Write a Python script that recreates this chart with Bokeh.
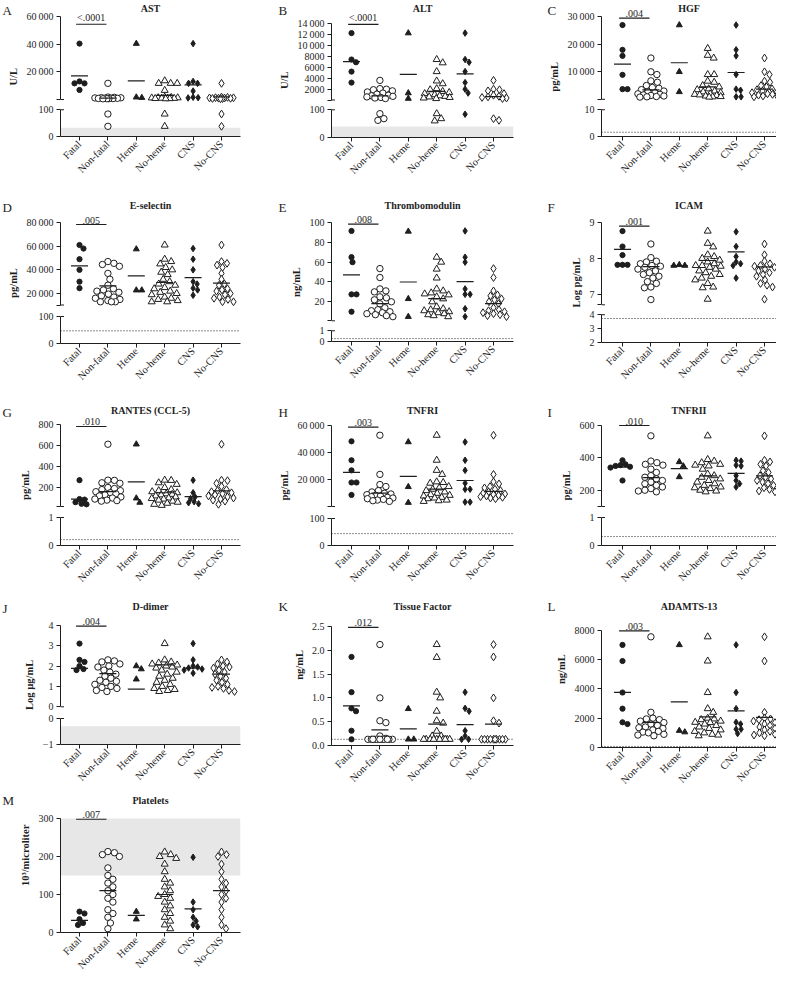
import math
from bokeh.plotting import figure
from bokeh.layouts import row, column
from bokeh.models import Range1d, FixedTicker, Label, Span, BoxAnnotation
from bokeh.embed import file_html
from bokeh.resources import INLINE
from bokeh.core.properties import value

GROUPS = ["Fatal", "Non-fatal", "Heme", "No-heme", "CNS", "No-CNS"]
TS = "\u2009"

# ---------------- data ----------------
AST = [
    [40500, 13000, 11600, 11600, 6800],
    [11600, 1600, 1400, 1200, 1100, 1000, 900, 800, 700, 600, 500, 450, 400, 350, 84, 38],
    [40500, 1500, 1200],
    [13500, 11600, 11600, 11600, 6500, 1600, 1400, 1200, 1100, 1000, 900, 800, 700, 600, 500, 400, 84, 38],
    [40500, 13000, 11600, 11600, 6000, 1500, 1200, 1000],
    [11600, 1600, 1400, 1200, 1100, 1000, 900, 800, 700, 600, 500, 400, 84, 38],
]
AST_MEAN = [17000, 800, 13400, 2900, 10500, 1700]

ALT = [
    [12200, 7400, 6900, 5200, 3200],
    [3600, 2100, 2000, 1900, 1700, 1500, 1300, 1100, 900, 800, 700, 600, 500, 400, 300, 86, 62, 68],
    [12200, 1300, 300],
    [7400, 6800, 5200, 3500, 3000, 2100, 1900, 1600, 1400, 1200, 1000, 800, 700, 600, 500, 400, 300, 86, 60, 68],
    [12200, 7400, 6900, 5200, 3200, 2000, 1300, 84],
    [3600, 2000, 1900, 1700, 1200, 900, 700, 600, 500, 400, 300, 62, 68],
]
ALT_MEAN = [7000, 800, 4700, 1600, 4800, 650]

HGF = [
    [27000, 18000, 15800, 8900, 3700, 3700],
    [15000, 10000, 9000, 6700, 6200, 5000, 4300, 4000, 3500, 3000, 2700, 2400, 2000, 1800, 1600, 1400, 1200, 1000, 900, 800],
    [27000, 10000, 2700],
    [18500, 16000, 15000, 9000, 9000, 6600, 6200, 5000, 4500, 3800, 3500, 3000, 2700, 2400, 2000, 1800, 1600, 1400, 1200, 1000, 900, 800],
    [27000, 18000, 15800, 9000, 3700, 3300, 900, 900],
    [15000, 10000, 9000, 6600, 6200, 5000, 4500, 3800, 3500, 3000, 2700, 2400, 2000, 1800, 1500, 1200, 1000, 900],
]
HGF_MEAN = [12800, 3450, 13300, 4550, 9750, 3700]

ESEL = [
    [61000, 58000, 49000, 40000, 30000, 24500],
    [47000, 45500, 44500, 43000, 37000, 32000, 27000, 24000, 23000, 22000, 21000, 19500, 18000, 17000, 16000, 15000, 14000, 13000, 13000, 13000],
    [57500, 22800, 22800],
    [61000, 49000, 47000, 45000, 42000, 40000, 38000, 36000, 32000, 30000, 28000, 27000, 25000, 24000, 22000, 21000, 20000, 19000, 17000, 16000, 15000, 14000, 13000, 13000],
    [58000, 49000, 40000, 30000, 28000, 24500, 23000, 18500],
    [61000, 47000, 45500, 44000, 42000, 37000, 32000, 28000, 27000, 24000, 23000, 22000, 20000, 19000, 17000, 16000, 15000, 13000, 13000],
]
ESEL_MEAN = [43400, 26500, 34900, 29300, 33500, 28700]

TM = [
    [91.5, 65, 60, 27.5, 27.5, 10],
    [53.5, 44.5, 33, 31, 30, 25, 24, 22, 20, 18, 14, 12, 11, 10, 9, 8, 7, 6, 5],
    [91, 23, 5],
    [65, 60, 53, 44, 33, 31, 29, 28, 27, 25, 23, 20, 15, 13, 12, 11, 10, 9, 8, 7, 6, 5],
    [91.5, 65, 60, 33, 27.5, 27.5, 13, 5],
    [53.5, 44.5, 31, 27, 26, 23, 22, 20, 18, 14, 12, 11, 10, 9, 8, 7, 6, 5],
]
TM_MEAN = [47.2, 18.2, 40, 23.2, 40.4, 18.2]

ICAM = [
    [8.76, 8.33, 8.09, 7.82, 7.82, 7.82],
    [8.4, 8.02, 7.92, 7.9, 7.85, 7.8, 7.78, 7.75, 7.7, 7.65, 7.6, 7.55, 7.5, 7.45, 7.35, 7.3, 7.2, 7.18, 6.85],
    [7.82, 7.8, 7.8],
    [8.76, 8.42, 8.32, 8.1, 8.05, 8.0, 7.95, 7.9, 7.85, 7.8, 7.8, 7.78, 7.75, 7.7, 7.65, 7.6, 7.55, 7.5, 7.45, 7.4, 7.3, 7.2, 7.18, 6.86],
    [8.74, 8.33, 8.05, 7.9, 7.85, 7.8, 7.45],
    [8.4, 8.1, 7.92, 7.85, 7.8, 7.78, 7.75, 7.7, 7.65, 7.6, 7.55, 7.5, 7.4, 7.3, 7.25, 7.2, 6.86],
]
ICAM_MEAN = [8.25, 7.77, 7.8, 7.94, 8.18, 7.76]

RANTES = [
    [270, 90, 85, 60, 45, 40],
    [612, 270, 268, 245, 240, 200, 190, 180, 170, 160, 150, 140, 130, 120, 110, 100, 90, 80, 75, 70],
    [612, 98, 57],
    [270, 268, 245, 230, 200, 180, 170, 160, 150, 140, 135, 130, 120, 110, 100, 95, 90, 80, 70, 60, 50, 40, 30],
    [270, 150, 110, 95, 65, 55, 45],
    [612, 270, 265, 240, 210, 180, 170, 160, 150, 140, 130, 120, 110, 100, 90, 80, 70, 40],
]
RANTES_MEAN = [89, 160, 254, 150, 114, 168]

TNFRI = [
    [48500, 34500, 27000, 18000, 18000, 8800],
    [53000, 24000, 16500, 15000, 12000, 11000, 10000, 9500, 9000, 8500, 8000, 7500, 7000, 6500, 6000, 5500, 5000, 4500, 4000],
    [48000, 14800, 3100],
    [53000, 34500, 27000, 24000, 18500, 18000, 17500, 15000, 14000, 13000, 12000, 11000, 10000, 9000, 8500, 8000, 7000, 6500, 6000, 5000, 4500, 4000],
    [48000, 34500, 27000, 17500, 13000, 13000, 3500, 3500],
    [53000, 24000, 18500, 17000, 15000, 14000, 13000, 12000, 11000, 10000, 9500, 9000, 8500, 8000, 7500, 7000, 6500, 6000],
]
TNFRI_MEAN = [25500, 10200, 22600, 13100, 19500, 11400]

TNFRII = [
    [385, 360, 355, 350, 345, 340, 260],
    [536, 380, 370, 360, 355, 330, 310, 290, 280, 270, 260, 250, 240, 230, 220, 210, 200, 195, 190],
    [375, 349, 282],
    [536, 390, 380, 370, 360, 355, 350, 330, 300, 290, 280, 270, 260, 250, 240, 230, 220, 215, 210, 200, 195, 190],
    [385, 380, 355, 350, 290, 260, 240, 220],
    [536, 385, 375, 360, 350, 320, 310, 290, 280, 270, 260, 250, 240, 230, 215, 205, 195, 190],
]
TNFRII_MEAN = [342, 278, 333, 288, 304, 288]

DDIMER = [
    [3.1, 2.3, 2.2, 2.0, 1.85, 1.8],
    [2.3, 2.25, 2.2, 2.1, 2.0, 1.95, 1.8, 1.7, 1.6, 1.5, 1.4, 1.3, 1.25, 1.2, 1.1, 1.0, 0.95, 0.9, 0.8, 0.75],
    [2.0, 1.85, 1.35],
    [3.1, 2.3, 2.2, 2.15, 2.1, 2.05, 2.0, 1.95, 1.9, 1.8, 1.7, 1.6, 1.5, 1.4, 1.3, 1.2, 1.1, 1.0, 0.9, 0.85, 0.8, 0.75],
    [3.1, 2.3, 2.0, 1.95, 1.9, 1.85, 1.8, 1.65],
    [2.3, 2.2, 2.1, 2.0, 1.95, 1.9, 1.8, 1.7, 1.6, 1.5, 1.4, 1.3, 1.2, 1.1, 1.0, 0.95, 0.9, 0.8, 0.75],
]
DDIMER_MEAN = [1.88, 1.63, 0.87, 2.06, 1.9, 1.6]

TF = [
    [1.86, 1.12, 0.78, 0.72, 0.31, 0.13],
    [2.12, 1.0, 0.52, 0.48, 0.2, 0.15, 0.13, 0.13, 0.13, 0.13, 0.13, 0.13, 0.13, 0.13, 0.13, 0.13, 0.13, 0.13],
    [0.77, 0.13, 0.13],
    [2.12, 1.85, 1.12, 1.0, 0.72, 0.52, 0.47, 0.3, 0.2, 0.2, 0.13, 0.13, 0.13, 0.13, 0.13, 0.13, 0.13, 0.13, 0.13, 0.13],
    [1.12, 0.78, 0.72, 0.31, 0.2, 0.13, 0.13],
    [2.12, 1.86, 1.0, 0.52, 0.47, 0.13, 0.13, 0.13, 0.13, 0.13, 0.13, 0.13, 0.13, 0.13, 0.13],
]
TF_MEAN = [0.83, 0.33, 0.35, 0.45, 0.44, 0.45]

ADAMTS = [
    [7000, 5900, 3750, 2650, 1720, 1600],
    [7550, 2400, 2000, 1950, 1900, 1800, 1700, 1600, 1500, 1400, 1350, 1300, 1200, 1100, 1050, 1000, 900, 850, 800],
    [7000, 1150, 1050],
    [7550, 5900, 3750, 2650, 2400, 2000, 1950, 1900, 1800, 1720, 1700, 1600, 1500, 1400, 1300, 1200, 1100, 1000, 900, 850, 800],
    [7000, 3750, 2650, 1720, 1600, 1250, 1250, 950],
    [7550, 5900, 2400, 2000, 1950, 1900, 1800, 1700, 1600, 1500, 1400, 1300, 1200, 1100, 1000, 900, 850, 800],
]
ADAMTS_MEAN = [3760, 1720, 3110, 2090, 2500, 2050]

PLT = [
    [55, 50, 35, 25, 20],
    [213, 210, 205, 200, 170, 150, 140, 130, 120, 110, 100, 90, 80, 60, 50, 40, 25, 10],
    [55, 35],
    [212, 205, 200, 195, 180, 160, 140, 130, 120, 110, 100, 95, 90, 80, 70, 60, 50, 40, 30, 20, 10],
    [198, 80, 60, 40, 30, 20, 15],
    [212, 205, 200, 180, 160, 140, 130, 120, 110, 100, 90, 80, 60, 40, 20, 10],
]
PLT_MEAN = [32, 110, 45, 100, 62, 110]

# tick values / labels
AST_UP_T, AST_UP_L = [20000, 40000, 60000], ["20" + TS + "000", "40" + TS + "000", "60" + TS + "000"]
ALT_UP_T = [2000, 4000, 6000, 8000, 10000, 12000, 14000]
ALT_UP_L = ["2000", "4000", "6000", "8000", "10" + TS + "000", "12" + TS + "000", "14" + TS + "000"]
HGF_UP_T, HGF_UP_L = [10000, 20000, 30000], ["10" + TS + "000", "20" + TS + "000", "30" + TS + "000"]
ESEL_UP_T = [20000, 40000, 60000, 80000]
ESEL_UP_L = ["20" + TS + "000", "40" + TS + "000", "60" + TS + "000", "80" + TS + "000"]
TM_UP_T, TM_UP_L = [20, 40, 60, 80, 100], ["20", "40", "60", "80", "100"]
ICAM_UP_T, ICAM_UP_L = [7, 8, 9], ["7", "8", "9"]
RANTES_UP_T, RANTES_UP_L = [200, 400, 600, 800], ["200", "400", "600", "800"]
TNFRI_UP_T, TNFRI_UP_L = [20000, 40000, 60000], ["20" + TS + "000", "40" + TS + "000", "60" + TS + "000"]
TNFRII_UP_T, TNFRII_UP_L = [200, 400, 600], ["200", "400", "600"]
DD_UP_T, DD_UP_L = [0, 1, 2, 3, 4], ["0", "1", "2", "3", "4"]
TF_T, TF_L = [0, 0.5, 1.0, 1.5, 2.0, 2.5], ["0.0", "0.5", "1.0", "1.5", "2.0", "2.5"]
ADAM_T, ADAM_L = [0, 2000, 4000, 6000, 8000], ["0", "2000", "4000", "6000", "8000"]
PLT_T, PLT_L = [0, 100, 200, 300], ["0", "100", "200", "300"]
LO_100_T, LO_100_L = [0, 100], ["0", "100"]
LO_10_T, LO_10_L = [0, 10], ["0", "10"]
LO_1_T, LO_1_L = [0, 1], ["0", "1"]
ICAM_LO_T, ICAM_LO_L = [2, 3, 4], ["2", "3", "4"]
DD_LO_T, DD_LO_L = [-1, 0], ["\u22121", "0"]

P_TEXT = ["<.0001", "<.0001", ".004", ".005", ".008", ".001", ".010", ".003", ".010", ".004", ".012", ".003", ".007"]
SIG_Y = [54600, 13800, 29500, 78300, 98.3, 8.9, 781, 59000, 600, 3.95, 2.48, 7950, 298]

# ---------------- styling / layout ----------------
FONT = "Liberation Serif"
INK = "#1e1e1e"
MARKERS = [("circle", True, 5.2), ("circle", False, 6.4), ("triangle", True, 6.0),
           ("triangle", False, 7.0), ("diamond", True, 6.5), ("diamond", False, 7.8)]
DIAM = [5.0, 6.2, 5.5, 6.5, 4.6, 5.6]

COL_X0 = [8, 266, 530]
COL_W = [258, 264, 254]
FRAME_L = [68, 339, 609]
FRAME_R = [248, 521, 784]
FATAL_PX = [87, 359, 630]
LETTER_PX = [10, 286, 555]
CAT_STEP = 28.4
ROW_TOP = [8, 205, 410, 606, 800]
ROW_BOT = [205, 410, 606, 800, 985]


def lin(v1, p1, v2, p2):
    k = (p2 - p1) / (v2 - v1)
    return (lambda v: p1 + (v - v1) * k), (lambda p: v1 + (p - p1) / k)


def text_w(s, fs=10.0):
    w = 0.0
    for ch in s:
        if ch.isdigit():
            w += 0.5
        elif ch in " \u2009":
            w += 0.2
        elif ch == ".":
            w += 0.25
        else:
            w += 0.56
    return w * fs


def swarm(ypx, d, limit=13.0):
    n = len(ypx)
    offs = [0.0] * n
    order = sorted(range(n), key=lambda i: ypx[i])
    cands = [0.0]
    k = 0.5
    while k <= limit:
        cands += [k, -k]
        k += 0.5
    placed = []
    for i in order:
        y = ypx[i]
        chosen, best_c, best_d = None, 0.0, -1.0
        for c in cands:
            md = min([math.hypot(c - px, y - py) for px, py in placed], default=1e9)
            if md >= d:
                chosen = c
                break
            if md > best_d:
                best_d, best_c = md, c
        if chosen is None:
            chosen = best_c
        offs[i] = chosen
        placed.append((chosen, y))
    return offs


def make_fig(w, h, xr, yr, bl, br, bb, with_x):
    p = figure(width=int(w), height=int(h), x_range=xr, y_range=yr, output_backend="svg",
               toolbar_location=None, x_axis_location="below" if with_x else None, title=None,
               min_border_left=int(bl), min_border_right=int(br), min_border_top=0,
               min_border_bottom=int(bb))
    p.outline_line_color = None
    p.grid.visible = False
    p.background_fill_color = "white"
    p.border_fill_color = "white"
    return p


def style_axis(ax):
    ax.axis_line_color = INK
    ax.axis_line_width = 1
    ax.major_tick_line_color = INK
    ax.major_tick_in = 0
    ax.major_tick_out = 4
    ax.minor_tick_line_color = None
    ax.major_label_text_font = FONT
    ax.major_label_text_font_size = "10px"
    ax.major_label_text_color = INK
    ax.major_label_standoff = 3


def style_y(p, ticks, labels, bounds):
    ax = p.yaxis[0]
    style_axis(ax)
    ax.ticker = FixedTicker(ticks=[float(t) for t in ticks])
    ax.major_label_overrides = {float(t): l for t, l in zip(ticks, labels)}
    ax.bounds = (float(bounds[0]), float(bounds[1]))


def style_x(p):
    ax = p.xaxis[0]
    style_axis(ax)
    ax.ticker = FixedTicker(ticks=[0, 1, 2, 3, 4, 5])
    ax.major_label_overrides = {i: g for i, g in enumerate(GROUPS)}
    ax.major_label_orientation = math.pi / 4
    ax.major_label_text_font_size = "10.5px"
    ax.major_label_standoff = 2


def break_mark(p, x0, yv):
    # inner half of the cross-mark at the end of a broken axis segment
    p.segment(x0=[x0], y0=[yv], x1=[x0 + 3.5 / CAT_STEP], y1=[yv], line_color=INK, line_width=1)


def build(sp):
    c, r = sp["col"], sp["row"]
    top, bot = ROW_TOP[r], ROW_BOT[r]
    H = bot - top
    fl, fr = FRAME_L[c], FRAME_R[c]
    cx0 = COL_X0[c]
    x0 = -(FATAL_PX[c] - fl) / CAT_STEP
    x1 = x0 + (fr - fl) / CAT_STEP
    xr = Range1d(x0, x1)

    up, lo = sp["up"], sp["lo"]
    all_labels = list(up["labels"]) + (list(lo["labels"]) if lo else [])
    tw = max(text_w(s) for s in all_labels)
    sw = int(fl - cx0 - (tw + 4 + 3 + 3))          # width of the side strip (letter + y label)
    w = COL_W[c] - sw
    bl = fl - cx0 - sw
    br = cx0 + COL_W[c] - fr

    u_px, u_v = lin(*up["cal"])
    if lo is not None:
        split = int(round(up["brk"] + sp.get("gap", 4)))
        brk_v = u_v(up["brk"])
        pu = make_fig(w, split - top, xr, Range1d(u_v(split), u_v(top)), bl, br, 0, False)
        ut, ul = list(up["ticks"]), list(up["labels"])
        if up.get("brk_tick", True):
            ut, ul = [brk_v] + ut, [""] + ul
            b0 = brk_v
        else:
            b0 = ut[0]
        style_y(pu, ut, ul, (b0, up["ticks"][-1]))
        l_px, l_v = lin(*lo["cal"])
        zero = int(round(l_px(lo["ticks"][0])))
        pl = make_fig(w, bot - split, xr, Range1d(lo["ticks"][0], l_v(split)), bl, br, bot - zero, True)
        style_y(pl, lo["ticks"], lo["labels"], (lo["ticks"][0], lo["ticks"][-1]))
        style_x(pl)
        break_mark(pu, x0, b0)
        break_mark(pl, x0, lo["ticks"][-1])
        segs = {"up": (pu, u_px), "lo": (pl, l_px)}
        lo_top = lo["ticks"][-1]
        center = (u_px(up["ticks"][-1]) + l_px(lo["ticks"][0])) / 2.0
        main = pu
        body = column(pu, pl)
    else:
        zero = int(round(u_px(up["ticks"][0])))
        ps = make_fig(w, H, xr, Range1d(up["ticks"][0], u_v(top)), bl, br, bot - zero, True)
        style_y(ps, up["ticks"], up["labels"], (up["ticks"][0], up["ticks"][-1]))
        style_x(ps)
        segs = {"up": (ps, u_px)}
        lo_top = None
        center = (u_px(up["ticks"][-1]) + u_px(up["ticks"][0])) / 2.0
        main = ps
        body = ps

    def seg_of(v):
        return "up" if (lo_top is None or v > lo_top) else "lo"

    # bands and reference lines (underneath the points)
    if sp.get("band"):
        b_lo, b_hi, key = sp["band"]
        segs[key][0].add_layout(BoxAnnotation(bottom=b_lo, top=b_hi, fill_color="#e7e7e7", fill_alpha=1.0,
                                              line_alpha=0, level="underlay"))
    if sp.get("dot") is not None:
        v, key = sp["dot"]
        segs[key][0].add_layout(Span(location=v, dimension="width", line_color=INK, line_width=1,
                                     line_dash="1 2", level="underlay"))

    # points and mean lines
    for g in range(6):
        vals = sp["data"][g]
        for key, (p, to_px) in segs.items():
            sel = [v for v in vals if seg_of(v) == key]
            if not sel:
                continue
            offs = swarm([to_px(v) for v in sel], DIAM[g])
            xs = [g + o / CAT_STEP for o in offs]
            mk, filled, sz = MARKERS[g]
            p.scatter(xs, sel, marker=mk, size=sz, fill_color=INK if filled else "white",
                      line_color=INK, line_width=1)
        m = sp["means"][g]
        pm = segs[seg_of(m)][0]
        pm.segment(x0=[g - 0.3], y0=[m], x1=[g + 0.3], y1=[m], line_color=INK, line_width=1.2)

    # significance bar
    sy = sp["sig"]
    main.segment(x0=[-0.12], y0=[sy], x1=[0.95], y1=[sy], line_color=INK, line_width=1.2)
    main.text(x=[0.41], y=[sy], text=[sp["p"]], text_align="center", text_baseline="bottom",
              y_offset=-1, text_font=value(FONT), text_font_size="10px", text_color=INK)

    # panel title inside the (extended) frame
    main.add_layout(Label(x=(x0 + x1) / 2, y=u_v(top + 8), text=sp["title"], text_font=FONT,
                          text_font_size="10px", text_font_style="bold", text_color=INK,
                          text_align="center", text_baseline="middle"))

    # side strip with panel letter and rotated y-axis label
    side = figure(width=sw, height=H, x_range=Range1d(0, sw), y_range=Range1d(0, H),
                  output_backend="svg", toolbar_location=None, title=None,
                  x_axis_location=None, y_axis_location=None,
                  min_border_left=0, min_border_right=0, min_border_top=0, min_border_bottom=0)
    side.outline_line_color = None
    side.grid.visible = False
    side.text(x=[LETTER_PX[c] - cx0], y=[H - 10], text=[sp["letter"]], text_align="left",
              text_baseline="middle", text_font=value(FONT), text_font_size="13px", text_color=INK)
    xl = fl - cx0 - (tw + 4 + 3 + 8 + 5)
    side.text(x=[xl], y=[H - (center - top)], text=[sp["ylabel"]], angle=math.pi / 2,
              text_align="center", text_baseline="middle", text_font=value(FONT),
              text_font_size="10.5px", text_font_style="bold", text_color=INK)
    return row(side, body)


PANELS = [
    dict(letter="A", title="AST", ylabel="U/L", col=0, row=0, data=AST, means=AST_MEAN,
         up=dict(cal=(20000, 79.3, 60000, 24.3), brk=107.0, ticks=AST_UP_T, labels=AST_UP_L),
         lo=dict(cal=(0, 144.3, 100, 117.3), ticks=LO_100_T, labels=LO_100_L),
         band=(0, 33, "lo"), dot=None),
    dict(letter="B", title="ALT", ylabel="U/L", col=1, row=0, data=ALT, means=ALT_MEAN,
         up=dict(cal=(2000, 96.7, 14000, 30.7), brk=107.5, ticks=ALT_UP_T, labels=ALT_UP_L),
         lo=dict(cal=(0, 145.0, 100, 117.3), ticks=LO_100_T, labels=LO_100_L),
         band=(0, 40, "lo"), dot=None),
    dict(letter="C", title="HGF", ylabel="pg/mL", col=2, row=0, data=HGF, means=HGF_MEAN,
         up=dict(cal=(10000, 79.3, 30000, 24.3), brk=106.8, ticks=HGF_UP_T, labels=HGF_UP_L),
         lo=dict(cal=(0, 144.3, 10, 117.3), ticks=LO_10_T, labels=LO_10_L),
         band=None, dot=(1.6, "lo")),
    dict(letter="D", title="E-selectin", ylabel="pg/mL", col=0, row=1, data=ESEL, means=ESEL_MEAN,
         up=dict(cal=(20000, 301.0, 80000, 230.0), brk=312.5, ticks=ESEL_UP_T, labels=ESEL_UP_L),
         lo=dict(cal=(0, 351.0, 100, 324.0), ticks=LO_100_T, labels=LO_100_L),
         band=None, dot=(47, "lo")),
    dict(letter="E", title="Thrombomodulin", ylabel="ng/mL", col=1, row=1, data=TM, means=TM_MEAN,
         up=dict(cal=(20, 309.3, 100, 230.0), brk=328.3, ticks=TM_UP_T, labels=TM_UP_L),
         lo=dict(cal=(0, 349.0, 1, 338.3), ticks=LO_1_T, labels=LO_1_L),
         band=None, dot=(0.27, "lo")),
    dict(letter="F", title="ICAM", ylabel="Log pg/mL", col=2, row=1, data=ICAM, means=ICAM_MEAN,
         up=dict(cal=(7, 301.7, 9, 230.0), brk=312.3, ticks=ICAM_UP_T, labels=ICAM_UP_L),
         lo=dict(cal=(2, 350.3, 4, 322.3), ticks=ICAM_LO_T, labels=ICAM_LO_L),
         band=None, dot=(3.73, "lo")),
    dict(letter="G", title="RANTES (CCL-5)", ylabel="pg/mL", col=0, row=2, data=RANTES, means=RANTES_MEAN,
         up=dict(cal=(200, 495.0, 800, 432.0), brk=514.0, ticks=RANTES_UP_T, labels=RANTES_UP_L),
         lo=dict(cal=(0, 553.0, 1, 525.0), ticks=LO_1_T, labels=LO_1_L),
         band=None, dot=(0.21, "lo")),
    dict(letter="H", title="TNFRI", ylabel="pg/mL", col=1, row=2, data=TNFRI, means=TNFRI_MEAN,
         up=dict(cal=(20000, 487.3, 60000, 433.3), brk=514.0, ticks=TNFRI_UP_T, labels=TNFRI_UP_L),
         lo=dict(cal=(0, 553.0, 100, 526.0), ticks=LO_100_T, labels=LO_100_L),
         band=None, dot=(44, "lo")),
    dict(letter="I", title="TNFRII", ylabel="pg/mL", col=2, row=2, data=TNFRII, means=TNFRII_MEAN,
         up=dict(cal=(200, 497.7, 600, 433.0), brk=514.0, ticks=TNFRII_UP_T, labels=TNFRII_UP_L),
         lo=dict(cal=(0, 553.0, 1, 525.0), ticks=LO_1_T, labels=LO_1_L),
         band=None, dot=(0.32, "lo")),
    dict(letter="J", title="D-dimer", ylabel="Log \u00b5g/mL", col=0, row=3, data=DDIMER, means=DDIMER_MEAN,
         up=dict(cal=(0, 714.3, 4, 632.7), brk=714.3, ticks=DD_UP_T, labels=DD_UP_L, brk_tick=False),
         lo=dict(cal=(-1, 752.0, 0, 726.0), ticks=DD_LO_T, labels=DD_LO_L),
         band=(-1, -0.3, "lo"), dot=None, gap=6),
    dict(letter="K", title="Tissue Factor", ylabel="ng/mL", col=1, row=3, data=TF, means=TF_MEAN,
         up=dict(cal=(0, 753.3, 2.5, 634.0), ticks=TF_T, labels=TF_L), lo=None,
         band=None, dot=(0.13, "up")),
    dict(letter="L", title="ADAMTS-13", ylabel="ng/mL", col=2, row=3, data=ADAMTS, means=ADAMTS_MEAN,
         up=dict(cal=(0, 757.7, 8000, 638.3), ticks=ADAM_T, labels=ADAM_L), lo=None,
         band=None, dot=(70, "up")),
    dict(letter="M", title="Platelets", ylabel="10\u00b3/microliter", col=0, row=4, data=PLT, means=PLT_MEAN,
         up=dict(cal=(0, 940.0, 300, 826.0), ticks=PLT_T, labels=PLT_L), lo=None,
         band=(150, 300, "up"), dot=None),
]

for i, sp in enumerate(PANELS):
    sp["p"] = P_TEXT[i]
    sp["sig"] = SIG_Y[i]

built = [build(sp) for sp in PANELS]
rows = []
for r in range(5):
    items = [b for b, sp in zip(built, PANELS) if sp["row"] == r]
    rows.append(row(*items))
layout = column(*rows)

open("out.html", "w").write(file_html(layout, INLINE))
